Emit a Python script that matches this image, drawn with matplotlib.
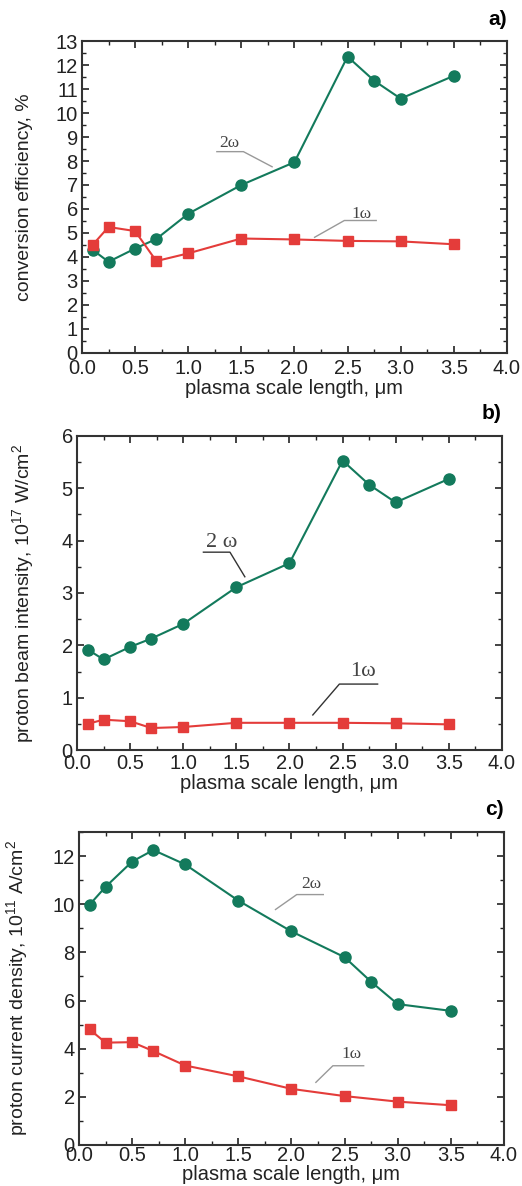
import matplotlib
matplotlib.use("Agg")
import matplotlib.pyplot as plt
from matplotlib.ticker import MultipleLocator, FormatStrFormatter

# plasma scale length, um
x_2w = [0.1, 0.25, 0.5, 0.7, 1.0, 1.5, 2.0, 2.5, 2.75, 3.0, 3.5]
x_1w = [0.1, 0.25, 0.5, 0.7, 1.0, 1.5, 2.0, 2.5, 3.0, 3.5]

# a) conversion efficiency, %
conv_2w = [4.3, 3.8, 4.35, 4.75, 5.8, 7.0, 7.95, 12.35, 11.35, 10.6, 11.55]
conv_1w = [4.5, 5.25, 5.08, 3.83, 4.15, 4.77, 4.73, 4.67, 4.65, 4.53]

# b) proton beam intensity, 10^17 W/cm^2
int_2w = [1.92, 1.73, 1.97, 2.13, 2.41, 3.11, 3.57, 5.53, 5.07, 4.73, 5.18]
int_1w = [0.5, 0.58, 0.55, 0.42, 0.44, 0.52, 0.52, 0.52, 0.51, 0.49]

# c) proton current density, 10^11 A/cm^2
cur_2w = [9.98, 10.72, 11.77, 12.25, 11.65, 10.15, 8.87, 7.8, 6.78, 5.85, 5.57]
cur_1w = [4.8, 4.25, 4.27, 3.9, 3.3, 2.85, 2.33, 2.03, 1.8, 1.65]

green = '#137a5c'
red = '#e43c3a'
plt.rcParams['font.family'] = ['Liberation Sans', 'DejaVu Sans']
plt.rcParams['mathtext.fontset'] = 'custom'
plt.rcParams['mathtext.rm'] = 'Liberation Sans'

fig = plt.figure(figsize=(5.22, 11.86), dpi=100)

# label: (text x, text y, far end of underline, near end, underline y, leader x, leader y)
panels = [
    dict(pos=[0.157, 0.7024, 0.814, 0.263], y2=conv_2w, y1=conv_1w, ymax=13, major=1, minor=0.5,
         ylabel='conversion efficiency, %', tag='a)', ylx=-0.115, xpad=4, xlc=-0.085,
         lab2=(1.39, 8.75, 1.27, 1.52, 8.39, 1.79, 7.76, '2ω'),
         lab1=(2.63, 5.8, 2.77, 2.47, 5.52, 2.19, 4.82, '1ω'),
         fs=12.5, lc='#999999'),
    dict(pos=[0.1475, 0.3676, 0.814, 0.2648], y2=int_2w, y1=int_1w, ymax=6, major=1, minor=0.5,
         ylabel='proton beam intensity, 10$^{17}$ W/cm$^2$', tag='b)', ylx=-0.095, xpad=3, xlc=-0.075,
         lab2=(1.36, 3.96, 1.19, 1.44, 3.78, 1.58, 3.31, '2 ω'),
         lab1=(2.69, 1.5, 2.83, 2.47, 1.26, 2.22, 0.67, '1ω'),
         fs=16, lc='#333333'),
    dict(pos=[0.1513, 0.0346, 0.814, 0.2639], y2=cur_2w, y1=cur_1w, ymax=13, major=2, minor=1,
         ylabel='proton current density, 10$^{11}$ A/cm$^2$', tag='c)', ylx=-0.112, xpad=1, xlc=-0.064,
         lab2=(2.19, 10.85, 2.30, 2.05, 10.4, 1.85, 9.78, '2ω'),
         lab1=(2.57, 3.78, 2.68, 2.39, 3.29, 2.23, 2.6, '1ω'),
         fs=12.5, lc='#999999'),
]

for p in panels:
    ax = fig.add_axes(p['pos'])
    ax.plot(x_2w, p['y2'], '-o', color=green, markersize=8, linewidth=1.5)
    ax.plot(x_1w, p['y1'], '-s', color=red, markersize=6.5, linewidth=1.5)
    ax.set_xlim(0, 4)
    ax.set_ylim(0, p['ymax'])
    ax.xaxis.set_major_locator(MultipleLocator(0.5))
    ax.xaxis.set_minor_locator(MultipleLocator(0.25))
    ax.yaxis.set_major_locator(MultipleLocator(p['major']))
    ax.yaxis.set_minor_locator(MultipleLocator(p['minor']))
    ax.xaxis.set_major_formatter(FormatStrFormatter('%.1f'))
    ax.tick_params(which='both', direction='in', top=True, right=True, labelsize=14.5,
                   colors='#222222')
    ax.tick_params(axis='x', pad=p['xpad'])
    ax.tick_params(axis='y', pad=3)
    ax.tick_params(which='major', length=5, width=1.2)
    ax.tick_params(which='minor', length=3, width=1.0)
    for s in ax.spines.values():
        s.set_linewidth(1.5)
        s.set_color('#333333')
    ax.set_xlabel('plasma scale length, μm', fontsize=14.5, color='#222222')
    ax.xaxis.set_label_coords(0.5, p['xlc'])
    ax.set_ylabel(p['ylabel'], fontsize=14, color='#222222')
    ax.yaxis.set_label_coords(p['ylx'], 0.5)
    ax.text(1.0, 1.04, p['tag'], transform=ax.transAxes, ha='right', va='bottom',
            fontsize=15, fontweight='bold')
    for lab in (p['lab2'], p['lab1']):
        tx, ty, hfar, hnear, hy, dx, dy, txt = lab
        ax.text(tx, ty, txt, fontsize=p['fs'], ha='center', va='center',
                family='Liberation Serif', color='#444444')
        ax.plot([hfar, hnear, dx], [hy, hy, dy], color=p['lc'], linewidth=1.0)

fig.savefig('out.png', dpi=100)
